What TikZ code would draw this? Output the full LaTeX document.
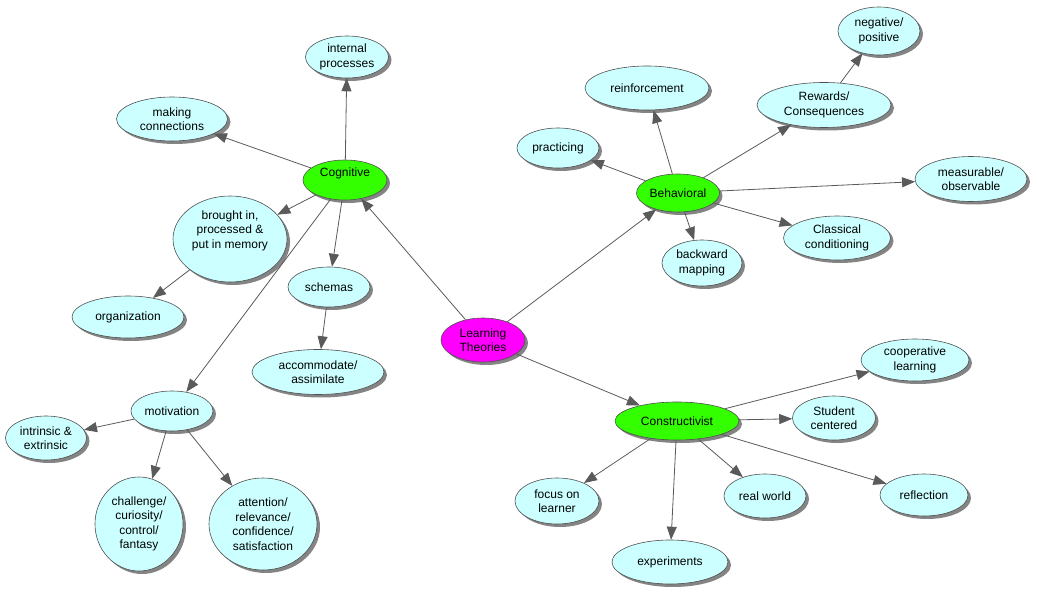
\documentclass[tikz,border=0pt]{standalone}
\usepackage{fontspec}
\setmainfont{Liberation Sans}
\usetikzlibrary{shapes.geometric,arrows.meta,shadows}
\definecolor{leaf}{HTML}{CCFFFF}
\definecolor{mid}{HTML}{33FF00}
\definecolor{root}{HTML}{FF00FF}
\definecolor{edgec}{HTML}{5A5A5A}
\definecolor{bord}{HTML}{505050}
\definecolor{shad}{HTML}{848484}
\tikzset{
  cn/.style={ellipse, draw=bord, line width=0.6pt, fill=leaf, inner sep=0pt,
    align=center, font=\fontsize{12}{14.5}\selectfont,
    drop shadow={shadow xshift=3pt, shadow yshift=-3pt, fill=shad, opacity=1}},
  gn/.style={cn, fill=mid},
  rn/.style={cn, fill=root},
  edge/.style={draw=edgec, line width=0.8pt, -{Triangle[length=13pt,width=10pt]}, color=edgec},
}
\newcommand{\mynode}[6]{\node[#1, minimum width=#4pt, minimum height=#5pt] (#2) at (#3) {#6};}
\begin{document}
\begin{tikzpicture}[x=1pt,y=-1pt]
\useasboundingbox (0,0) rectangle (1037,593);
% cognitive branch
\mynode{gn}{cog}{345,180}{84}{40}{\raisebox{3pt}[0pt][0pt]{Cognitive}}
\mynode{cn}{internal}{347,57}{83}{42}{internal\\processes}
\mynode{cn}{making}{172,119}{111}{44}{making\\connections}
\mynode{cn}{brought}{230,239}{114}{86}{\raisebox{5pt}[0pt][0pt]{\begin{tabular}{@{}c@{}}brought in,\\processed \&\\put in memory\end{tabular}}}
\mynode{cn}{organization}{128,317}{112}{42}{organization}
\mynode{cn}{schemas}{329,287}{82}{40}{schemas}
\mynode{cn}{accommodate}{318,372}{132}{45}{accommodate/\\assimilate}
\mynode{cn}{motivation}{172,411}{82}{40}{motivation}
\mynode{cn}{intrinsic}{46,438}{81}{44}{intrinsic \&\\extrinsic}
\mynode{cn}{challenge}{139,524}{88}{94}{challenge/\\curiosity/\\control/\\fantasy}
\mynode{cn}{attention}{263,524}{108}{92}{attention/\\relevance/\\confidence/\\satisfaction}
% root
\mynode{rn}{lt}{483,340}{84}{44}{Learning\\Theories}
% behavioral branch
\mynode{gn}{beh}{678,193}{83}{38}{Behavioral}
\mynode{cn}{reinforcement}{647,88}{124}{44}{reinforcement}
\mynode{cn}{practicing}{558,148}{82}{40}{practicing}
\mynode{cn}{rewards}{824,105}{134}{45}{Rewards/\\Consequences}
\mynode{cn}{negative}{879,31}{82}{48}{negative/\\positive}
\mynode{cn}{measurable}{971,179}{112}{45}{measurable/\\observable}
\mynode{cn}{classical}{837,238}{107}{44}{Classical\\conditioning}
\mynode{cn}{backward}{702,263}{80}{46}{backward\\mapping}
% constructivist branch
\mynode{gn}{cons}{677,421}{124}{38}{Constructivist}
\mynode{cn}{cooperative}{915,360}{108}{42}{cooperative\\learning}
\mynode{cn}{student}{834,418}{83}{44}{Student\\centered}
\mynode{cn}{reflection}{924,495}{88}{42}{reflection}
\mynode{cn}{realworld}{765,496}{82}{44}{real world}
\mynode{cn}{experiments}{670,562}{116}{44}{experiments}
\mynode{cn}{focus}{557,501}{84}{46}{focus on\\learner}
% edges
\draw[edge] (cog) -- (internal);
\draw[edge] (cog) -- (making);
\draw[edge] (cog) -- (brought);
\draw[edge] (cog) -- (schemas);
\draw[edge] (cog) -- (motivation);
\draw[edge] (brought) -- (organization);
\draw[edge] (schemas) -- (accommodate);
\draw[edge] (motivation) -- (intrinsic);
\draw[edge] (motivation) -- (challenge);
\draw[edge] (motivation) -- (attention);
\draw[edge] (lt) -- (cog);
\draw[edge] (lt) -- (beh);
\draw[edge] (lt) -- (cons);
\draw[edge] (beh) -- (reinforcement);
\draw[edge] (beh) -- (practicing);
\draw[edge] (beh) -- (rewards);
\draw[edge] (beh) -- (measurable);
\draw[edge] (beh) -- (classical);
\draw[edge] (beh) -- (backward);
\draw[edge] (rewards) -- (negative);
\draw[edge] (cons) -- (cooperative);
\draw[edge] (cons) -- (student);
\draw[edge] (cons) -- (reflection);
\draw[edge] (cons) -- (realworld);
\draw[edge] (cons) -- (experiments);
\draw[edge] (cons) -- (focus);
\end{tikzpicture}
\end{document}
